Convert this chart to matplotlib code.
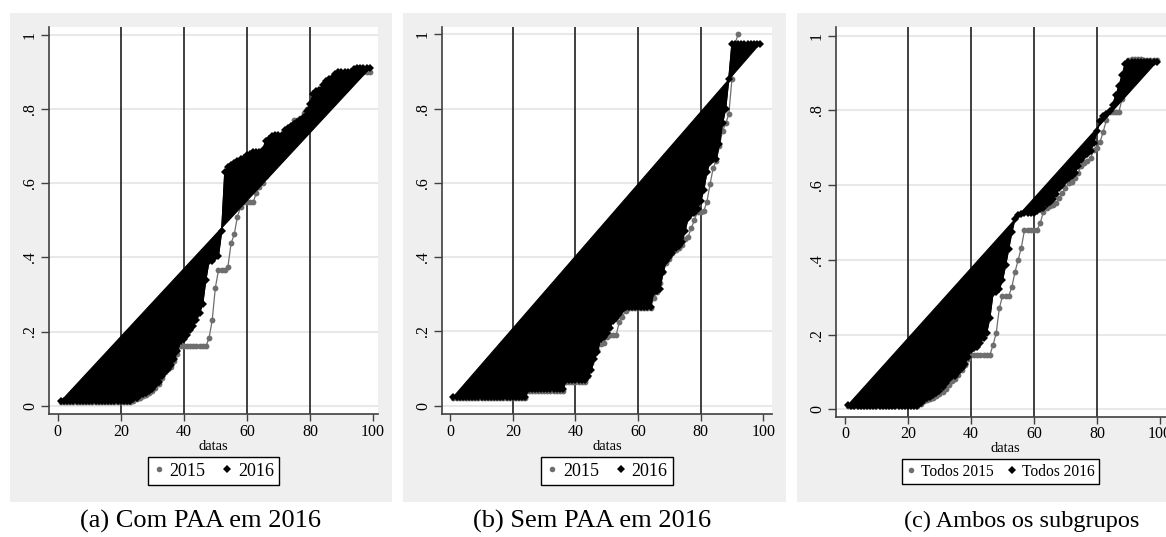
import numpy as np
import matplotlib.pyplot as plt
from matplotlib.patches import Rectangle
from matplotlib.lines import Line2D

plt.rcParams['font.family'] = ['Liberation Serif', 'DejaVu Serif']

# eixo x: datas 1..99
datas = np.arange(1, 100)

# (a) Com PAA em 2016
a15 = [0.010] * 23 + [
    0.012, 0.018, 0.022, 0.025, 0.030, 0.035, 0.040, 0.048, 0.058, 0.075,
    0.090, 0.098, 0.105, 0.120, 0.140, 0.160, 0.160, 0.160, 0.160, 0.160,
    0.160, 0.160, 0.160, 0.160, 0.182, 0.230, 0.318, 0.365, 0.365, 0.365,
    0.375, 0.438, 0.462, 0.510, 0.535, 0.549, 0.549, 0.549, 0.549, 0.573,
    0.590, 0.600, 0.620, 0.640, 0.660, 0.680, 0.700, 0.710, 0.720, 0.740,
    0.750, 0.770, 0.770, 0.775, 0.790, 0.800, 0.810, 0.815, 0.820, 0.830,
    0.840, 0.850, 0.855, 0.860, 0.865, 0.870, 0.875, 0.880, 0.885, 0.890,
    0.895, 0.895, 0.900, 0.900, 0.900, 0.900]
a16 = [0.012] * 23 + [
    0.018, 0.022, 0.028, 0.032, 0.035, 0.040, 0.045, 0.055, 0.065, 0.080,
    0.090, 0.100, 0.110, 0.125, 0.148, 0.175, 0.180, 0.190, 0.205, 0.215,
    0.230, 0.250, 0.275, 0.340, 0.390, 0.390, 0.400, 0.405, 0.470, 0.630,
    0.645, 0.650, 0.655, 0.660, 0.665, 0.668, 0.675, 0.680, 0.685, 0.685,
    0.685, 0.690, 0.715, 0.720, 0.728, 0.730, 0.730, 0.730, 0.745, 0.750,
    0.755, 0.760, 0.765, 0.770, 0.780, 0.795, 0.815, 0.840, 0.850, 0.852,
    0.865, 0.875, 0.880, 0.885, 0.895, 0.900, 0.900, 0.900, 0.900, 0.900,
    0.908, 0.910, 0.910, 0.910, 0.910, 0.910]

# (b) Sem PAA em 2016
b15 = [0.022] * 24 + [0.040] * 12 + [0.065] * 7 + [
    0.080, 0.115, 0.140, 0.150, 0.165, 0.168, 0.185, 0.190, 0.190, 0.190,
    0.225, 0.240, 0.255] + [0.262] * 8 + [
    0.290, 0.305, 0.330, 0.360, 0.383, 0.395, 0.410, 0.420, 0.425, 0.433,
    0.450, 0.455, 0.478, 0.500, 0.522, 0.522, 0.524, 0.549, 0.596, 0.640,
    0.660, 0.700, 0.740, 0.760, 0.785, 0.880, 0.975, 1.000]
b16 = [0.024] * 24 + [0.044] * 12 + [0.068] * 7 + [
    0.080, 0.095, 0.125, 0.145, 0.180, 0.185, 0.195, 0.210, 0.228, 0.235,
    0.248, 0.258] + [0.265] * 9 + [
    0.305, 0.310, 0.315, 0.360, 0.390, 0.400, 0.410, 0.425, 0.430, 0.440,
    0.470, 0.505, 0.515, 0.520, 0.530, 0.550, 0.580, 0.630, 0.655, 0.665,
    0.665, 0.705, 0.760, 0.800, 0.880] + [0.975] * 10

# (c) Ambos os subgrupos
c15 = [0.010] * 23 + [
    0.015, 0.022, 0.025, 0.028, 0.030, 0.035, 0.040, 0.047, 0.055, 0.065,
    0.075, 0.082, 0.092, 0.105, 0.118, 0.135] + [0.145] * 7 + [
    0.172, 0.203, 0.270, 0.303, 0.303, 0.303, 0.328, 0.368, 0.400, 0.433,
    0.480, 0.480, 0.480, 0.480, 0.480, 0.498, 0.529, 0.540, 0.545, 0.548,
    0.551, 0.565, 0.578, 0.592, 0.605, 0.608, 0.618, 0.632, 0.650, 0.660,
    0.665, 0.672, 0.695, 0.700, 0.716, 0.743, 0.774, 0.797, 0.797, 0.797,
    0.797, 0.830, 0.870, 0.935, 0.937, 0.937, 0.937, 0.937, 0.935, 0.935,
    0.935, 0.935, 0.935]
c16 = [0.012] + [0.010] * 22 + [
    0.018, 0.025, 0.030, 0.033, 0.038, 0.043, 0.050, 0.060, 0.070, 0.080,
    0.088, 0.090, 0.100, 0.110, 0.122, 0.140, 0.158, 0.163, 0.168, 0.178,
    0.192, 0.205, 0.245, 0.310, 0.315, 0.322, 0.345, 0.385, 0.430, 0.475,
    0.510, 0.520, 0.522, 0.525, 0.525, 0.525, 0.525, 0.530, 0.535, 0.540,
    0.550, 0.555, 0.562, 0.575, 0.592, 0.600, 0.610, 0.618, 0.625, 0.632,
    0.650, 0.668, 0.678, 0.683, 0.692, 0.712, 0.745, 0.772, 0.785, 0.790,
    0.798, 0.815, 0.840, 0.865, 0.895, 0.925] + [0.930] * 10

yticks = [0, 0.2, 0.4, 0.6, 0.8, 1]
ylabels = ['0', '.2', '.4', '.6', '.8', '1']
xticks = [0, 20, 40, 60, 80, 100]
xlines = [20, 40, 60, 80]

W, H = 1166, 537
fig = plt.figure(figsize=(W / 100, H / 100), dpi=100)


def box(l, t, r, b):
    return [l / W, 1 - b / H, (r - l) / W, (b - t) / H]


panels = [
    dict(y15=a15, y16=a16, leg=['2015', '2016'], cap='(a) Com PAA em 2016',
         bg=(10, 13, 392, 502), ax=(49, 27, 378, 414),
         xlim=(-2.76, 101.6), ylim=(-0.0224, 1.0216),
         legc=(213.5, 471), legfs=13, capx=200, capfs=19),
    dict(y15=b15, y16=b16, leg=['2015', '2016'], cap='(b) Sem PAA em 2016',
         bg=(403, 13, 786, 502), ax=(442, 27, 772, 414),
         xlim=(-2.65, 102.8), ylim=(-0.0223, 1.0196),
         legc=(607, 471), legfs=13, capx=592, capfs=19),
    dict(y15=c15, y16=c16, leg=['Todos 2015', 'Todos 2016'], cap='(c) Ambos os subgrupos',
         bg=(797, 13, 1180, 502), ax=(836, 27, 1175, 416.7),
         xlim=(-2.86, 104.8), ylim=(-0.0198, 1.0233),
         legc=(1000.5, 471.5), legfs=11.2, capx=1021.7, capfs=17.5),
]

for p in panels:
    l, t, r, b = p['bg']
    fig.patches.append(Rectangle((l / W, 1 - b / H), (r - l) / W, (b - t) / H,
                                 transform=fig.transFigure, facecolor='#efefef',
                                 edgecolor='none', zorder=-5))
    ax = fig.add_axes(box(*p['ax']))
    ax.set_zorder(1)
    ax.set_facecolor('white')
    ax.set_xlim(*p['xlim'])
    ax.set_ylim(*p['ylim'])
    ax.set_yticks(yticks)
    ax.set_yticklabels(ylabels, rotation=90, va='center')
    ax.set_xticks(xticks)
    ax.yaxis.grid(True, color='#e8e8e8', lw=1.5)
    ax.set_axisbelow(True)
    for s in ['top', 'right']:
        ax.spines[s].set_visible(False)
    for s in ['left', 'bottom']:
        ax.spines[s].set_color('#404040')
        ax.spines[s].set_linewidth(1.2)
    ax.tick_params(axis='both', colors='#404040', labelcolor='black',
                   labelsize=11.5, width=1, length=5, pad=2)
    ax.tick_params(axis='y', length=6)
    for v in xlines:
        ax.axvline(v, color='#303030', lw=1.3, zorder=1.5)

    x15 = datas[:len(p['y15'])]
    ax.plot(x15, p['y15'], color='#6e6e6e', lw=0.9, marker='o', ms=4.2,
            markeredgewidth=0, zorder=2)
    ax.fill(datas, p['y16'], color='black', lw=0.8, zorder=3)
    ax.plot(datas, p['y16'], color='black', lw=0.9, marker='D', ms=4.0,
            markeredgewidth=0, zorder=3)
    ax.set_xlabel('datas', fontsize=10.5, labelpad=0)

    handles = [Line2D([], [], ls='none', marker='o', ms=4, color='#6e6e6e', mew=0),
               Line2D([], [], ls='none', marker='D', ms=4.5, color='black', mew=0)]
    cx, cy = p['legc']
    lg = fig.legend(handles, p['leg'], loc='center', bbox_to_anchor=(cx / W, 1 - cy / H),
                    ncol=2, frameon=True, fancybox=False, edgecolor='black',
                    framealpha=1, fontsize=p['legfs'], handlelength=0.6,
                    handletextpad=0.3, columnspacing=0.9, borderpad=0.3,
                    borderaxespad=0)
    lg.get_frame().set_linewidth(1.0)
    lg.set_zorder(2)

    fig.text(p['capx'] / W, 1 - 521 / H, p['cap'], ha='center', va='center',
             fontsize=p['capfs'])

fig.savefig('out.png', dpi=100)
